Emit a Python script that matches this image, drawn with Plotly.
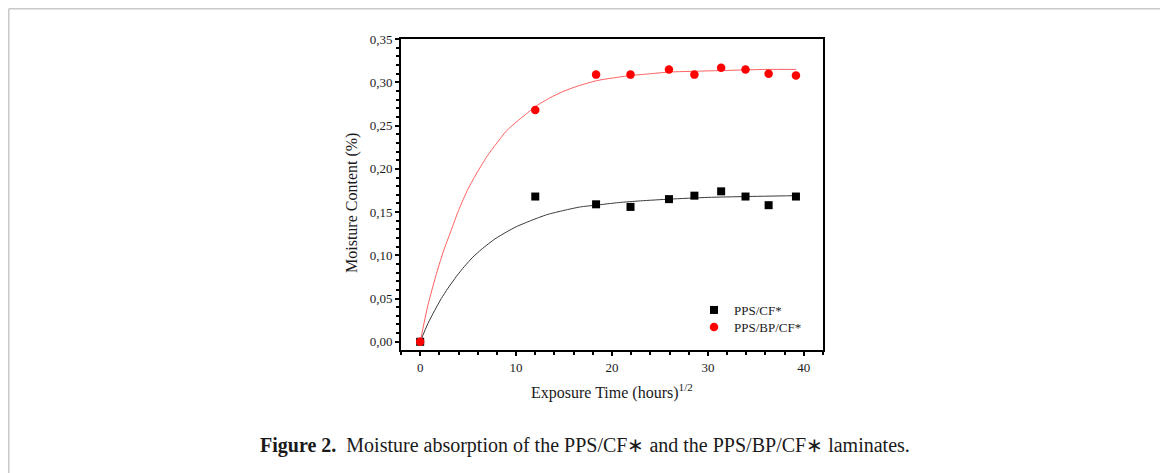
import plotly.graph_objects as go

# ---- data ----
time_x = [0, 12.0, 18.34, 21.93, 25.94, 28.59, 31.38, 33.92, 36.33, 39.18]
pps_cf = [0.0, 0.168, 0.159, 0.156, 0.165, 0.169, 0.174, 0.168, 0.158, 0.168]
pps_bp_cf = [0.0, 0.268, 0.309, 0.309, 0.315, 0.309, 0.317, 0.315, 0.310, 0.308]

# fitted curves: points
fit_cf_x = [0, 0.8, 1.5, 2.2, 2.9, 3.8, 4.6, 5.5, 6.4, 7.8, 9.0, 10.0, 11.5, 13.2, 15.0, 16.7,
            18.3, 20.7, 23.0, 26.0, 30.0, 34.0, 39.2]
fit_cf_y = [0, 0.021, 0.036, 0.050, 0.062, 0.076, 0.087, 0.098, 0.107, 0.119, 0.127, 0.133, 0.140,
            0.147, 0.152, 0.156, 0.158, 0.161, 0.163, 0.165, 0.167, 0.168, 0.169]
fit_bp_x = [0, 0.8, 1.6, 2.4, 3.2, 4.0, 5.0, 6.0, 7.0, 8.0, 9.0, 10.0, 11.0, 12.0, 13.5, 15.0,
            16.5, 18.4, 20.0, 22.0, 24.0, 26.0, 29.0, 32.4, 36.0, 39.2]
fit_bp_y = [0, 0.042, 0.075, 0.104, 0.128, 0.152, 0.177, 0.197, 0.215, 0.230, 0.244, 0.254, 0.263,
            0.272, 0.282, 0.290, 0.296, 0.302, 0.305, 0.308, 0.310, 0.312, 0.313, 0.314, 0.315, 0.315]

y_tickvals = [0.00, 0.05, 0.10, 0.15, 0.20, 0.25, 0.30, 0.35]
y_ticktext = ["0,00", "0,05", "0,10", "0,15", "0,20", "0,25", "0,30", "0,35"]
x_tickvals = [0, 10, 20, 30, 40]
x_ticktext = ["0", "10", "20", "30", "40"]

series_names = ["PPS/CF*", "PPS/BP/CF*"]
x_title = "Exposure Time (hours)<sup>1/2</sup>"
y_title = "Moisture Content (%)"
caption_bold = "Figure 2."
caption_text = "Moisture absorption of the PPS/CF\u2217 and the PPS/BP/CF\u2217 laminates."

# ---- geometry (page pixels; the page body has an 8px margin) ----
OFF = 8
W, H = 1168 - OFF, 473 - OFF
PLOT_L, PLOT_R, PLOT_T, PLOT_B = 401, 823, 39, 350   # page pixels
L = PLOT_L - OFF
T = PLOT_T - OFF
R = W - (PLOT_R - OFF)
B = H - (PLOT_B - OFF)
PW = PLOT_R - PLOT_L
PH = PLOT_B - PLOT_T

def px(x):
    return (x - PLOT_L) / PW

def py(y):
    return (PLOT_B - y) / PH

SERIF = "Liberation Serif, Times New Roman, serif"
TXT = "#1a1a1a"

fig = go.Figure()
fig.add_trace(go.Scatter(x=fit_cf_x, y=fit_cf_y, mode="lines",
                         line=dict(color="#3a3a3a", width=1, shape="spline", smoothing=0.6),
                         showlegend=False, hoverinfo="skip"))
fig.add_trace(go.Scatter(x=fit_bp_x, y=fit_bp_y, mode="lines",
                         line=dict(color="#ff6060", width=1, shape="spline", smoothing=0.6),
                         showlegend=False, hoverinfo="skip"))
fig.add_trace(go.Scatter(x=time_x, y=pps_cf, mode="markers", name=series_names[0], legend="legend",
                         marker=dict(symbol="square", size=8, color="black")))
fig.add_trace(go.Scatter(x=time_x, y=pps_bp_cf, mode="markers", name=series_names[1], legend="legend2",
                         marker=dict(symbol="circle", size=8.5, color="#ff0000")))

axis_common = dict(showline=True, linecolor="black", linewidth=2, mirror=True, showgrid=False, zeroline=False,
                   ticks="outside", tickcolor="black", tickwidth=1.5, ticklen=4,
                   tickfont=dict(family=SERIF, size=13, color=TXT))

fig.update_xaxes(range=[-2, 42], tickvals=x_tickvals, ticktext=x_ticktext,
                 minor=dict(dtick=2, tick0=0, ticks="outside", ticklen=3, tickwidth=1.5, tickcolor="black"),
                 **axis_common)
fig.update_yaxes(range=[-0.0095, 0.3502], tickvals=y_tickvals, ticktext=y_ticktext,
                 minor=dict(dtick=0.01, tick0=0, ticks="outside", ticklen=3, tickwidth=1.5, tickcolor="black"),
                 **axis_common)

annotations = [
    dict(x=px(612), y=py(391), xref="paper", yref="paper", xanchor="center", yanchor="middle", showarrow=False,
         text=x_title, font=dict(family=SERIF, size=16, color=TXT)),
    dict(x=px(352), y=py(203), xref="paper", yref="paper", xanchor="center", yanchor="middle", showarrow=False,
         textangle=-90, text=y_title, font=dict(family=SERIF, size=16, color=TXT)),
    dict(x=px(585), y=py(445), xref="paper", yref="paper", xanchor="center", yanchor="middle", showarrow=False,
         text="<b>" + caption_bold + "</b>  " + caption_text, font=dict(family=SERIF, size=20, color=TXT)),
]

# page frame (light grey border around the figure panel)
FRAME = dict(color="#c8c8c8", width=1.5)
shapes = [
    dict(type="line", xref="paper", yref="paper", x0=px(8.8), x1=px(8.8), y0=py(8.8), y1=py(480), line=FRAME, layer="above"),
    dict(type="line", xref="paper", yref="paper", x0=px(8.8), x1=px(1161), y0=py(8.8), y1=py(8.8), line=FRAME, layer="above"),
    dict(type="line", xref="paper", yref="paper", x0=px(1161), x1=px(1161), y0=py(8.8), y1=py(480), line=FRAME, layer="above"),
]

leg_common = dict(xanchor="left", yanchor="middle", bgcolor="rgba(0,0,0,0)", borderwidth=0,
                  font=dict(family=SERIF, size=13, color=TXT), itemwidth=30)

fig.update_layout(
    width=W, height=H, margin=dict(l=L, r=R, t=T, b=B),
    paper_bgcolor="white", plot_bgcolor="white",
    showlegend=True,
    legend=dict(x=px(713 - 19), y=py(310), **leg_common),
    legend2=dict(x=px(713 - 19), y=py(327), **leg_common),
    annotations=annotations, shapes=shapes,
)

fig.write_html("out.html")
